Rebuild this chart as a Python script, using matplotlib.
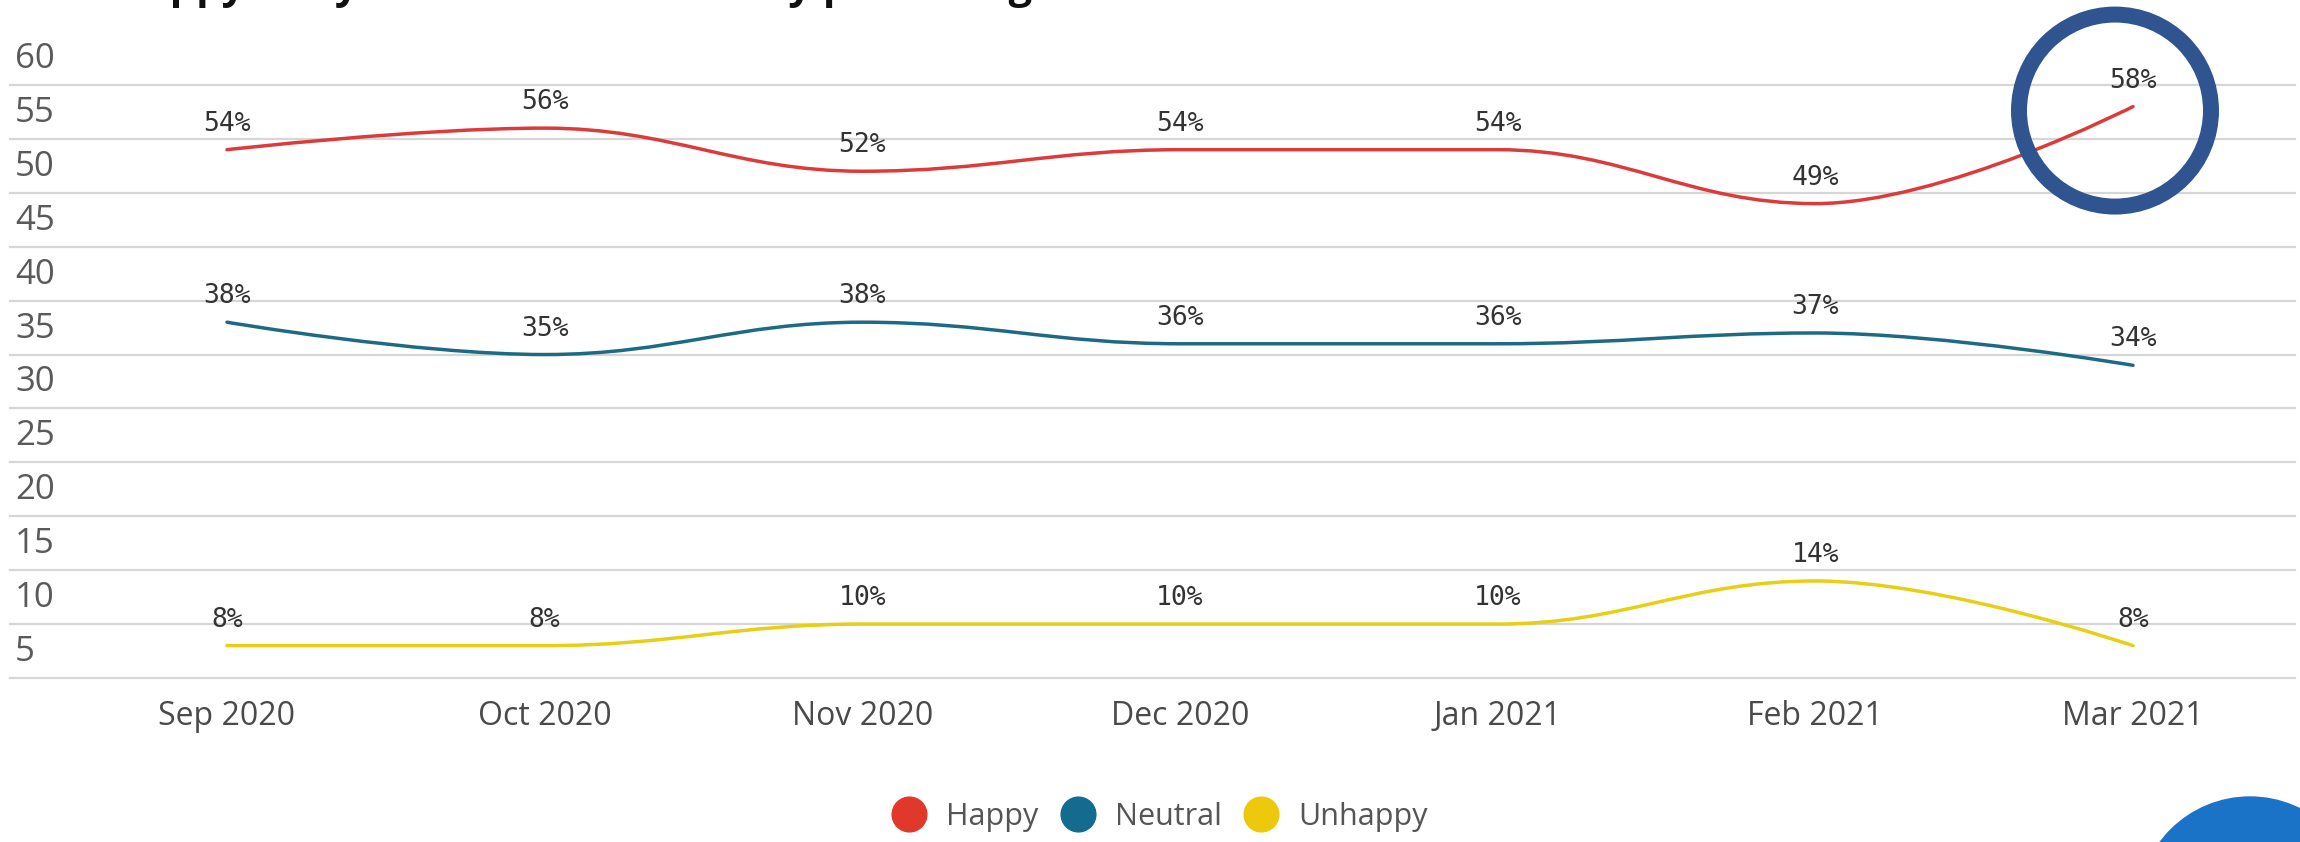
import matplotlib
matplotlib.use("Agg")
import matplotlib.pyplot as plt
from matplotlib.path import Path
from matplotlib.patches import PathPatch, Circle
from matplotlib.lines import Line2D
from matplotlib import transforms

# data
months = ["Sep 2020", "Oct 2020", "Nov 2020", "Dec 2020", "Jan 2021", "Feb 2021", "Mar 2021"]
happy = [54, 56, 52, 54, 54, 49, 58]
neutral = [38, 35, 38, 36, 36, 37, 34]
unhappy = [8, 8, 10, 10, 10, 14, 8]
y_ticks = [5, 10, 15, 20, 25, 30, 35, 40, 45, 50, 55, 60]

series = [("Happy", happy, "#dc3b3b", "#e0392b"),
          ("Neutral", neutral, "#1e6a84", "#136b8f"),
          ("Unhappy", unhappy, "#e6cf14", "#eec80c")]


def spline_path(xs, ys, smoothing=1.5):
    # same control points as a highcharts "spline" series
    denom = smoothing + 1
    n = len(xs)
    rc = [None] * n
    verts = [(xs[0], ys[0])]
    codes = [Path.MOVETO]
    for i in range(1, n):
        px, py = xs[i], ys[i]
        lx, ly = xs[i - 1], ys[i - 1]
        lcx, lcy = px, py
        if i < n - 1:
            nx, ny = xs[i + 1], ys[i + 1]
            lcx = (smoothing * px + lx) / denom
            lcy = (smoothing * py + ly) / denom
            rcx = (smoothing * px + nx) / denom
            rcy = (smoothing * py + ny) / denom
            if rcx != lcx:
                corr = ((rcy - lcy) * (rcx - px)) / (rcx - lcx) + py - rcy
                lcy += corr
                rcy += corr
            if lcy > ly and lcy > py:
                lcy = max(ly, py)
                rcy = 2 * py - lcy
            elif lcy < ly and lcy < py:
                lcy = min(ly, py)
                rcy = 2 * py - lcy
            if rcy > ny and rcy > py:
                rcy = max(ny, py)
                lcy = 2 * py - rcy
            elif rcy < ny and rcy < py:
                rcy = min(ny, py)
                lcy = 2 * py - rcy
            rc[i] = (rcx, rcy)
        prev_c = rc[i - 1] if rc[i - 1] is not None else (lx, ly)
        verts += [prev_c, (lcx, lcy), (px, py)]
        codes += [Path.CURVE4] * 3
    return Path(verts, codes)


W, H = 2300, 842
fig = plt.figure(figsize=(W / 100, H / 100), dpi=100)
fig.patch.set_facecolor("white")
ax = fig.add_axes([10 / W, 1 - 678 / H, (2295 - 10) / W, (678 - 85) / H])
ax.set_xlim(-0.683, 6.51)
ax.set_ylim(5, 60)
for s in ax.spines.values():
    s.set_visible(False)

for v in y_ticks:
    ax.axhline(v, color="#d6d6d6", lw=1.6, zorder=1, clip_on=False)

ylab_tr = transforms.offset_copy(
    transforms.blended_transform_factory(ax.transAxes, ax.transData), fig=fig, y=9, units="dots")
for v in y_ticks:
    ax.text(0.0022, v, str(v), transform=ylab_tr, ha="left", va="bottom",
            fontsize=25, family="Open Sans", color="#5a5a5a")
ax.set_yticks([])

x = list(range(len(months)))
ax.set_xticks(x)
ax.set_xticklabels(months, fontsize=23, family="Open Sans", color="#4a4a4a")
ax.tick_params(axis="x", length=0, pad=16)

lab_tr = transforms.offset_copy(ax.transData, fig=fig, y=13, units="dots")
for name, vals, col, lcol in series:
    ax.add_patch(PathPatch(spline_path(x, vals), fill=False, edgecolor=col, lw=2.5, zorder=3,
                           capstyle="round"))
    for xi, v in zip(x, vals):
        ax.text(xi, v, f"{v}%", transform=lab_tr, ha="center", va="bottom",
                fontsize=19, family="DejaVu Sans Mono", color="#333333", zorder=4)

handles = [Line2D([], [], ls="none", marker="o", markersize=25, markerfacecolor=lcol,
                  markeredgecolor=lcol, label=name) for name, vals, col, lcol in series]
leg = fig.legend(handles=handles, loc="center", bbox_to_anchor=(0.504, 0.03), ncol=3,
                 frameon=False, handlelength=1.2, handletextpad=0.6, columnspacing=0.7,
                 prop={"family": "Open Sans", "size": 22})
for t in leg.get_texts():
    t.set_color("#555555")

# title is cut off at the top edge in the original, only descenders show
fig.text(0.006, 1 + 2 / H, "How happy are you at work? - Monthly percentage", fontsize=30,
         fontweight="bold", family="Open Sans", va="baseline", color="#111111")

# highlight ring around the last point
fig.canvas.draw()
cx, cy = ax.transData.transform((x[-1], happy[-1]))
ring = Circle((cx - 18, cy - 4), 96, transform=transforms.IdentityTransform(), fill=False,
              edgecolor="#2f548f", lw=11.5, zorder=10)
fig.add_artist(ring)
blob = Circle((2250, -67), 112, transform=transforms.IdentityTransform(), color="#1b73c8", zorder=10)
fig.add_artist(blob)

fig.savefig("out.png", dpi=100)
